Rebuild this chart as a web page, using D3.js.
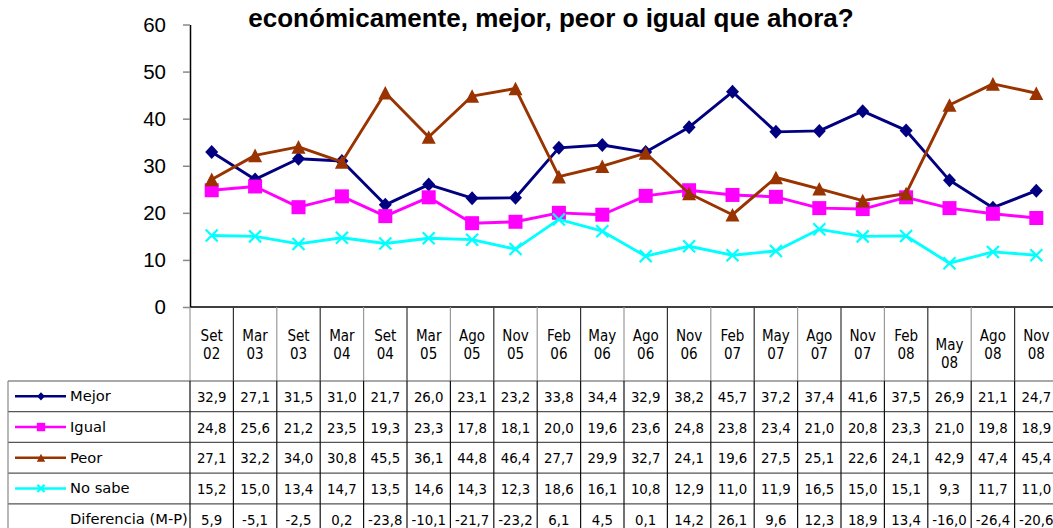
<!DOCTYPE html>
<html>
<head>
<meta charset="utf-8">
<script src="https://cdn.jsdelivr.net/npm/d3@7"></script>
<style>
  html, body { margin: 0; padding: 0; background: #fff; overflow: hidden; }
  svg { display: block; }
</style>
</head>
<body>
<svg id="chart" width="1053" height="528"></svg>
<script>
// ---------- DATA ----------
const titleLines = [
  "¿Cree usted que dentro de un año usted y su familia estarán,",
  "económicamente, mejor, peor o igual que ahora?"
];
const categories = [
  ["Set","02"],["Mar","03"],["Set","03"],["Mar","04"],["Set","04"],
  ["Mar","05"],["Ago","05"],["Nov","05"],["Feb","06"],["May","06"],
  ["Ago","06"],["Nov","06"],["Feb","07"],["May","07"],["Ago","07"],
  ["Nov","07"],["Feb","08"],["May","08"],["Ago","08"],["Nov","08"]
];
const mejor   = [32.9,27.1,31.5,31.0,21.7,26.0,23.1,23.2,33.8,34.4,32.9,38.2,45.7,37.2,37.4,41.6,37.5,26.9,21.1,24.7];
const igual   = [24.8,25.6,21.2,23.5,19.3,23.3,17.8,18.1,20.0,19.6,23.6,24.8,23.8,23.4,21.0,20.8,23.3,21.0,19.8,18.9];
const peor    = [27.1,32.2,34.0,30.8,45.5,36.1,44.8,46.4,27.7,29.9,32.7,24.1,19.6,27.5,25.1,22.6,24.1,42.9,47.4,45.4];
const noSabe  = [15.2,15.0,13.4,14.7,13.5,14.6,14.3,12.3,18.6,16.1,10.8,12.9,11.0,11.9,16.5,15.0,15.1,9.3,11.7,11.0];
const diferencia = [5.9,-5.1,-2.5,0.2,-23.8,-10.1,-21.7,-23.2,6.1,4.5,0.1,14.2,26.1,9.6,12.3,18.9,13.4,-16.0,-26.4,-20.6];
const seriesNames = ["Mejor","Igual","Peor","No sabe"];
const diffName = "Diferencia (M-P)";
const yTicks = [0,10,20,30,40,50,60];

// ---------- STYLE / LAYOUT ----------
const colors  = {"Mejor":"#000080","Igual":"#FF00FF","Peor":"#993300","No sabe":"#00FFFF"};
const markers = {"Mejor":"diamond","Igual":"square","Peor":"triangle","No sabe":"x"};
const plotLeft = 190, colW = 43.4, plotTop = 24.5, plotBottom = 307;
const headerBottom = 381, rowH = 30.7, legendLeft = 8;
const tableFont = "'DejaVu Sans Condensed','DejaVu Sans',sans-serif";
const labelFont = "'DejaVu Sans',sans-serif";

const svg = d3.select("#chart");
const idx = categories.map((d,i)=>i);
const x = d3.scaleBand().domain(idx).range([plotLeft, plotLeft + colW*categories.length]).padding(0);
const y = d3.scaleLinear().domain([0,60]).range([plotBottom, plotTop]);
const fmt = v => v.toFixed(1).replace(".", ",");

// ---------- TITLE ----------
svg.append("g").selectAll("text").data(titleLines).join("text")
  .attr("x", 551).attr("y", (d,i)=> i === 0 ? -5 : 27)
  .attr("text-anchor","middle")
  .attr("font-family","'Liberation Sans',Arial,sans-serif")
  .attr("font-weight","bold").attr("font-size", 26)
  .attr("fill","#000")
  .text(d=>d);

// ---------- Y AXIS ----------
const yAxis = d3.axisLeft(y).tickValues(yTicks).tickSize(7).tickSizeOuter(0).tickPadding(17);
const gy = svg.append("g").attr("transform",`translate(${plotLeft},0)`).call(yAxis);
gy.select(".domain").attr("stroke","#000").attr("stroke-width",1.5);
gy.selectAll(".tick line").attr("stroke","#888").attr("stroke-width",1.5);
gy.selectAll(".tick text").attr("font-family","'Liberation Sans',Arial,sans-serif")
  .attr("font-size",20.5).attr("fill","#000");

// ---------- TABLE ----------
const tableRight = x.range()[1];
const g = svg.append("g");
g.append("line").attr("x1",plotLeft).attr("x2",tableRight).attr("y1",plotBottom).attr("y2",plotBottom)
  .attr("stroke","#000").attr("stroke-width",1.5);
const bounds = d3.range(categories.length+1).map(i => x.range()[0] + i*colW);
g.selectAll(".hv").data(bounds).join("line")
  .attr("x1",d=>d).attr("x2",d=>d).attr("y1",plotBottom).attr("y2",headerBottom)
  .attr("stroke",(d,i)=> i%2 ? "#333" : "#999").attr("stroke-width",1.2);
const nRows = 5;
const rowYs = d3.range(nRows+1).map(i => headerBottom + i*rowH);
g.selectAll(".hl").data(rowYs).join("line")
  .attr("x1",legendLeft).attr("x2",tableRight).attr("y1",d=>d).attr("y2",d=>d)
  .attr("stroke","#555").attr("stroke-width",1.2);
g.selectAll(".dv").data([legendLeft, ...bounds]).join("line")
  .attr("x1",d=>d).attr("x2",d=>d).attr("y1",headerBottom).attr("y2",headerBottom + nRows*rowH)
  .attr("stroke",(d,i)=> i===0 ? "#888" : "#111").attr("stroke-width",1.2);

const hdr = g.selectAll(".hdr").data(categories).join("text")
  .attr("text-anchor","middle")
  .attr("font-family",tableFont).attr("font-size",15).attr("fill","#000")
  .attr("transform",(d,i)=>`translate(${x(i)+colW/2},${d[0]==="May"&&d[1]==="08" ? 350 : 341})`);
hdr.append("tspan").attr("x",0).attr("y",0).text(d=>d[0]);
hdr.append("tspan").attr("x",0).attr("y",18).text(d=>d[1]);

const rows = [
  {name:"Mejor", values:mejor},
  {name:"Igual", values:igual},
  {name:"Peor", values:peor},
  {name:"No sabe", values:noSabe},
  {name:diffName, values:diferencia}
];
rows.forEach((r, ri) => {
  const cy = headerBottom + ri*rowH + rowH/2;
  g.append("text").attr("x",70).attr("y",cy+5)
    .attr("font-family",labelFont).attr("font-size",14.7).attr("fill","#000").text(r.name);
  g.selectAll(null).data(r.values).join("text")
    .attr("x",(d,i)=>x(i)+colW/2).attr("y",cy+5.5).attr("text-anchor","middle")
    .attr("font-family",tableFont).attr("font-size",14.8).attr("fill","#000")
    .text(d=>fmt(d));
  if (colors[r.name]) {
    g.append("line").attr("x1",15).attr("x2",66).attr("y1",cy).attr("y2",cy)
      .attr("stroke",colors[r.name]).attr("stroke-width",2.5);
    drawMarker(g, markers[r.name], 41, cy, colors[r.name], 0.6);
  }
});

function drawMarker(sel, type, cx, cy, color, s) {
  if (type === "diamond") {
    const w = 6.5*s, h = 7*s;
    sel.append("path").attr("d",`M${cx},${cy-h}L${cx+w},${cy}L${cx},${cy+h}L${cx-w},${cy}Z`).attr("fill",color);
  } else if (type === "square") {
    const a = 7*s;
    sel.append("rect").attr("x",cx-a).attr("y",cy-a).attr("width",2*a).attr("height",2*a).attr("fill",color);
  } else if (type === "triangle") {
    const w = 7*s, h = 6.8*s;
    sel.append("path").attr("d",`M${cx},${cy-h}L${cx+w},${cy+h}L${cx-w},${cy+h}Z`).attr("fill",color);
  } else if (type === "x") {
    const a = 6*s;
    sel.append("path").attr("d",`M${cx-a},${cy-a}L${cx+a},${cy+a}M${cx-a},${cy+a}L${cx+a},${cy-a}`)
      .attr("stroke",color).attr("stroke-width",2.2).attr("fill","none");
  }
}

// ---------- SERIES ----------
const seriesData = {"Mejor":mejor,"Igual":igual,"Peor":peor,"No sabe":noSabe};
const line = d3.line().x((d,i)=>x(i)+colW/2).y(d=>y(d));
const plot = svg.append("g");
seriesNames.forEach(name => {
  const vals = seriesData[name];
  plot.append("path").datum(vals).attr("d",line)
    .attr("fill","none").attr("stroke",colors[name]).attr("stroke-width",2.9)
    .attr("stroke-linejoin","round");
  vals.forEach((v,i) => drawMarker(plot, markers[name], x(i)+colW/2, y(v), colors[name], 1));
});
</script>
</body>
</html>
